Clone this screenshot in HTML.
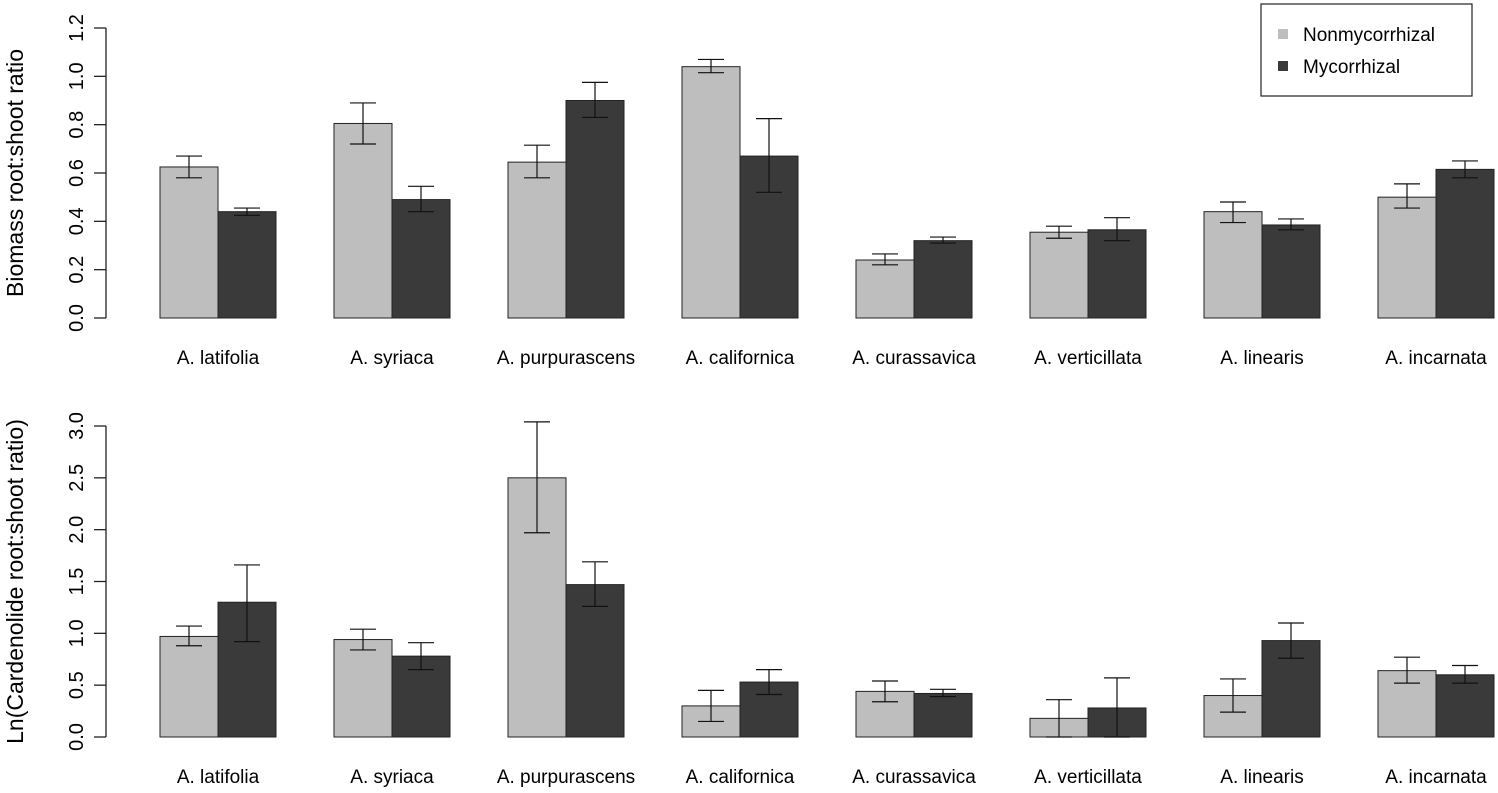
<!DOCTYPE html>
<html><head><meta charset="utf-8"><style>
body{margin:0;background:#fff;}
svg{display:block;font-family:"Liberation Sans",Arial,sans-serif;}
</style></head><body>
<svg id="c" width="1498" height="793" xmlns="http://www.w3.org/2000/svg"></svg>
<script>
const categories=["A. latifolia","A. syriaca","A. purpurascens","A. californica","A. curassavica","A. verticillata","A. linearis","A. incarnata"];
const bioNon=[0.625,0.805,0.645,1.04,0.24,0.355,0.44,0.50];
const bioNonLo=[0.58,0.72,0.58,1.015,0.22,0.33,0.395,0.455];
const bioNonHi=[0.67,0.89,0.715,1.07,0.265,0.38,0.48,0.555];
const bioMyc=[0.44,0.49,0.90,0.67,0.32,0.365,0.385,0.615];
const bioMycLo=[0.425,0.44,0.83,0.52,0.31,0.32,0.365,0.58];
const bioMycHi=[0.455,0.545,0.975,0.825,0.335,0.415,0.41,0.65];
const carNon=[0.97,0.94,2.50,0.30,0.44,0.18,0.40,0.64];
const carNonLo=[0.88,0.84,1.97,0.15,0.34,0.0,0.24,0.52];
const carNonHi=[1.07,1.04,3.04,0.45,0.54,0.36,0.56,0.77];
const carMyc=[1.30,0.78,1.47,0.53,0.42,0.28,0.93,0.60];
const carMycLo=[0.92,0.65,1.26,0.41,0.39,0.0,0.76,0.52];
const carMycHi=[1.66,0.91,1.69,0.65,0.46,0.57,1.10,0.69];
const bioTicks=["0.0","0.2","0.4","0.6","0.8","1.0","1.2"];
const carTicks=["0.0","0.5","1.0","1.5","2.0","2.5","3.0"];
const svg=document.getElementById('c');
const NS="http://www.w3.org/2000/svg";
function mk(t,a,txt){const e=document.createElementNS(NS,t);for(const k in a)e.setAttribute(k,a[k]);if(txt!=null)e.textContent=txt;svg.appendChild(e);return e;}
function panel(p,non,nonLo,nonHi,myc,mycLo,mycHi,ticks,title){
  const y=v=>p.y0-(v/p.max)*(p.y0-p.y1);
  const ax=mk('line',{x1:106,x2:106,y1:y(0),y2:y(p.max),stroke:'#222','stroke-width':1.3});
  
  ticks.forEach(t=>{const v=parseFloat(t);
    const l=mk('line',{x1:94,x2:106,y1:y(v),y2:y(v),stroke:'#222','stroke-width':1.3});
    
    const tx=mk('text',{x:0,y:0,'font-size':20,'text-anchor':'middle',transform:`translate(83,${y(v)}) rotate(-90)`},t);
    });
  const tt=mk('text',{x:0,y:0,'font-size':23,'text-anchor':'middle',transform:`translate(23,${(y(0)+y(p.max))/2}) rotate(-90)`},title);
  
  categories.forEach((c,i)=>{const cx=218+i*174;
    [[non,nonLo,nonHi,'#bebebe',cx-58,'nonmycorrhizal'],[myc,mycLo,mycHi,'#3a3a3a',cx,'mycorrhizal']].forEach(s=>{
      const v=s[0][i];
      const r=mk('rect',{x:s[4],y:y(v),width:58,height:y(0)-y(v),fill:s[3],stroke:'#222','stroke-width':1});
      
      const ex=s[4]+29,lo=y(s[1][i]),hi=y(s[2][i]);
      const e=mk('path',{d:`M${ex},${lo}V${hi}M${ex-13},${lo}H${ex+13}M${ex-13},${hi}H${ex+13}`,stroke:'#111','stroke-width':1.2,fill:'none'});
      
    });
    const lb=mk('text',{x:cx,y:p.ly,'font-size':19,'text-anchor':'middle'},c);
    
  });
}
panel({id:'biomass',y0:318,y1:28,max:1.2,ly:364},bioNon,bioNonLo,bioNonHi,bioMyc,bioMycLo,bioMycHi,bioTicks,"Biomass root:shoot ratio");
panel({id:'cardenolide',y0:737,y1:426,max:3.0,ly:783},carNon,carNonLo,carNonHi,carMyc,carMycLo,carMycHi,carTicks,"Ln(Cardenolide root:shoot ratio)");
const lg=mk('rect',{x:1261,y:4,width:211,height:92,fill:'#fff',stroke:'#222','stroke-width':1.2});

[['#bebebe','Nonmycorrhizal',34],['#3a3a3a','Mycorrhizal',66]].forEach(s=>{
  const r=mk('rect',{x:1278,y:s[2]-5,width:10,height:10,fill:s[0]});
  
  const t=mk('text',{x:1303,y:s[2]+7,'font-size':19},s[1]);
  
});
</script>
</body></html>
